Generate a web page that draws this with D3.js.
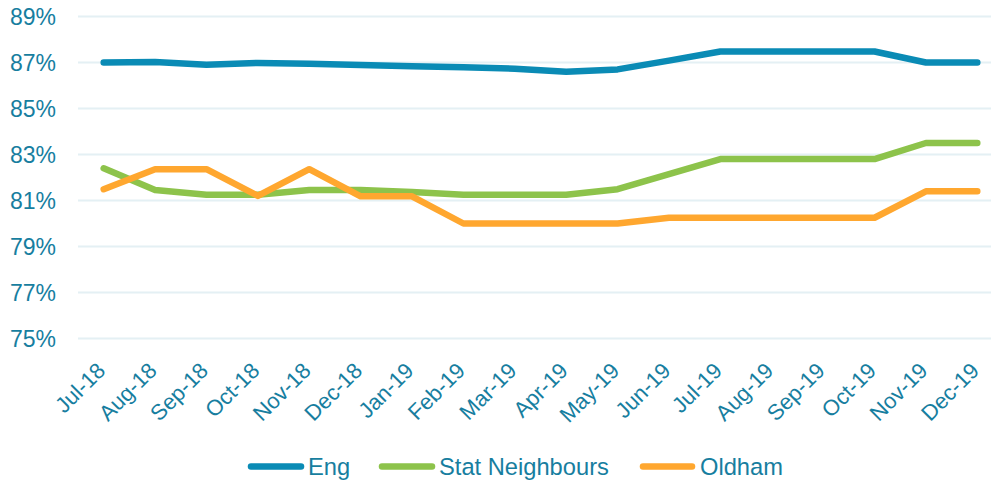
<!DOCTYPE html>
<html>
<head>
<meta charset="utf-8">
<script src="https://cdn.jsdelivr.net/npm/d3@7/dist/d3.min.js"></script>
<style>
  html, body { margin: 0; padding: 0; background: #ffffff; }
  svg { display: block; }
  text { font-family: "Liberation Sans", Arial, sans-serif; fill: #177E9F; }
</style>
</head>
<body>
<svg id="chart" width="991" height="481"></svg>
<script>
const categories = ["Jul-18","Aug-18","Sep-18","Oct-18","Nov-18","Dec-18","Jan-19","Feb-19","Mar-19","Apr-19","May-19","Jun-19","Jul-19","Aug-19","Sep-19","Oct-19","Nov-19","Dec-19"];
const seriesNames = ["Eng", "Stat Neighbours", "Oldham"];
const engValues = [87.0, 87.02, 86.9, 86.98, 86.95, 86.89, 86.84, 86.79, 86.73, 86.6, 86.7, 87.08, 87.48, 87.48, 87.48, 87.48, 87.0, 87.0];
const statValues = [82.4, 81.46, 81.25, 81.25, 81.46, 81.46, 81.37, 81.25, 81.25, 81.25, 81.49, 82.15, 82.8, 82.8, 82.8, 82.8, 83.5, 83.5];
const oldhamValues = [81.49, 82.36, 82.36, 81.2, 82.36, 81.18, 81.18, 80.0, 80.0, 80.0, 80.0, 80.25, 80.25, 80.25, 80.25, 80.25, 81.4, 81.4];
const yTicks = [75, 77, 79, 81, 83, 85, 87, 89];
const colors = ["#0A8BB5", "#8DC34B", "#FFA72F"];

const series = [engValues, statValues, oldhamValues];

const svg = d3.select("#chart");
const plotLeft = 78, plotRight = 1003, plotTop = 16.5, plotBottom = 338.5;

const x = d3.scalePoint().domain(categories).range([plotLeft, plotRight]).padding(0.5);
const y = d3.scaleLinear().domain([75, 89]).range([plotBottom, plotTop]);

// gridlines
svg.append("g").selectAll("line").data(yTicks).join("line")
  .attr("x1", plotLeft).attr("x2", 991)
  .attr("y1", d => y(d)).attr("y2", d => y(d))
  .attr("stroke", "#E4F0F4").attr("stroke-width", 2);

// y axis labels
const yAxis = d3.axisLeft(y).tickValues(yTicks).tickFormat(d => d + "%").tickSize(0).tickPadding(0);
const gy = svg.append("g").attr("transform", `translate(56,0)`).call(yAxis);
gy.select(".domain").remove();
gy.selectAll("text").attr("font-size", 23).attr("fill", "#177E9F")
  .attr("font-family", "Liberation Sans, Arial, sans-serif")
  .attr("dy", "0.36em");

// x axis labels
const xAxis = d3.axisBottom(x).tickSize(0).tickPadding(0);
const gx = svg.append("g").call(xAxis);
gx.select(".domain").remove();
gx.selectAll(".tick").attr("transform", d => `translate(${x(d) + 3},372)`);
gx.selectAll("text")
  .attr("font-size", 22).attr("fill", "#177E9F")
  .attr("font-family", "Liberation Sans, Arial, sans-serif")
  .attr("y", 0).attr("dy", 0).attr("x", 0)
  .attr("text-anchor", "end")
  .attr("transform", "rotate(-45)");

// lines
const line = d3.line().x((d, i) => x(categories[i])).y(d => y(d));
svg.append("g").selectAll("path").data(series).join("path")
  .attr("d", d => line(d))
  .attr("fill", "none")
  .attr("stroke", (d, i) => colors[i])
  .attr("stroke-width", 6.5)
  .attr("stroke-linecap", "round")
  .attr("stroke-linejoin", "round");

// legend
const legendItems = [
  { name: seriesNames[0], x0: 251, x1: 301, tx: 308 },
  { name: seriesNames[1], x0: 382, x1: 432, tx: 439 },
  { name: seriesNames[2], x0: 643, x1: 692, tx: 700 }
];
const lg = svg.append("g");
legendItems.forEach((it, i) => {
  lg.append("line").attr("x1", it.x0).attr("x2", it.x1).attr("y1", 466.5).attr("y2", 466.5)
    .attr("stroke", colors[i]).attr("stroke-width", 6.5).attr("stroke-linecap", "round");
  lg.append("text").attr("x", it.tx).attr("y", 474.5).attr("font-size", 23.7).text(it.name);
});
</script>
</body>
</html>
